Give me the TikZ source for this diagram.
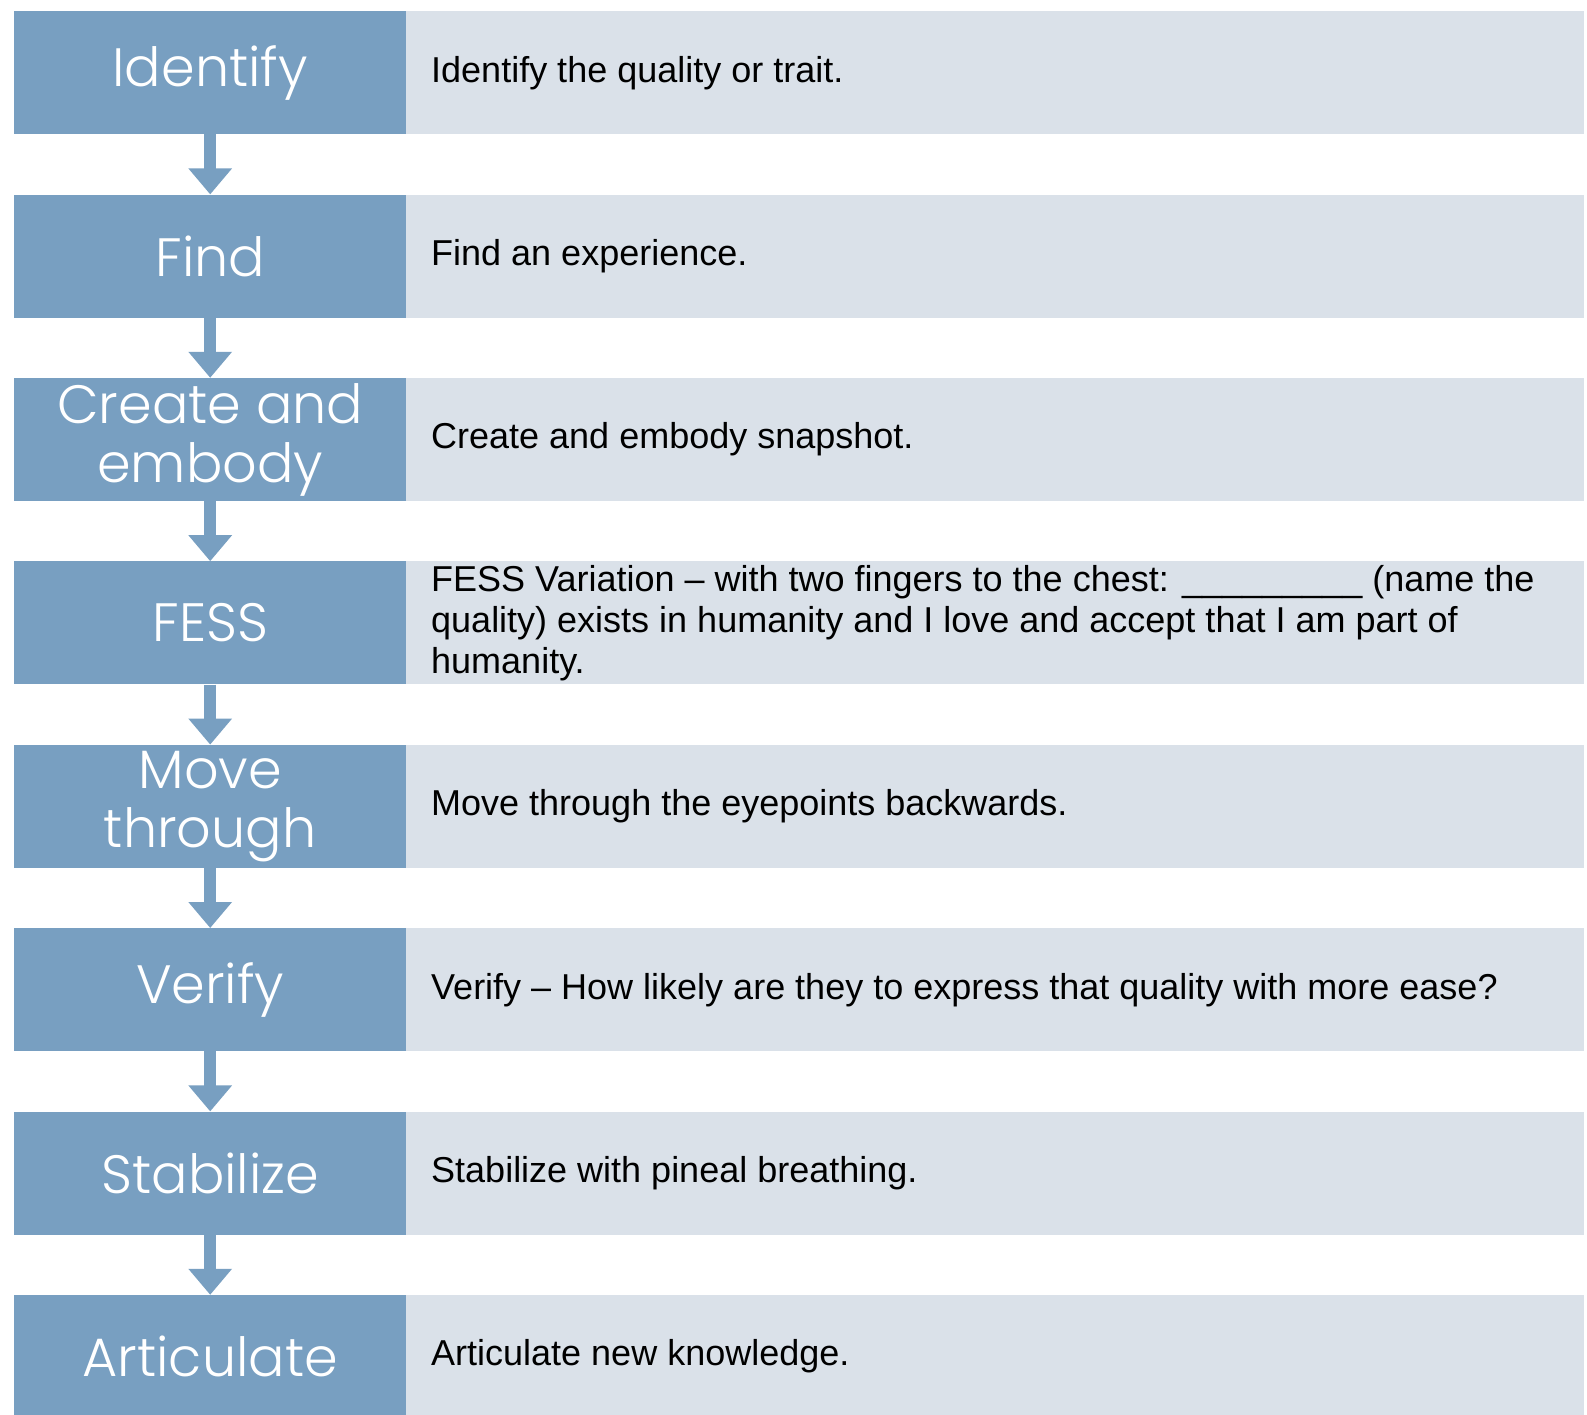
\documentclass[tikz,border=0pt]{standalone}
\usepackage{fontspec}
\usetikzlibrary{arrows.meta}
\IfFontExistsTF{Poppins Light}
  {\newfontfamily\stepfont{Poppins Light}}
  {\newfontfamily\stepfont{Poppins}}
\newfontfamily\descfont{Liberation Sans}
\definecolor{stepblue}{HTML}{789FC1}
\definecolor{rowgrey}{HTML}{DAE1E9}
\tikzset{
  x=1pt, y=-1pt,
  stepbox/.style={fill=stepblue, text=white, minimum width=392pt, minimum height=123pt,
    inner sep=0pt, anchor=north west, align=center,
    font=\stepfont\fontsize{54}{59}\selectfont},
  descbox/.style={fill=rowgrey, text=black, minimum width=1178pt, minimum height=123pt,
    inner sep=0pt, anchor=north west},
  desctext/.style={anchor=west, inner sep=0pt, align=left,
    font=\descfont\fontsize{36}{41}\selectfont},
  flow/.style={draw=stepblue, line width=12pt, -{Triangle[width=42pt,length=26pt]}}
}
\begin{document}
\begin{tikzpicture}
\clip (0,0) rectangle (1587,1414);
\fill[white] (0,0) rectangle (1587,1414);
\foreach \i/\lbl/\txt in {
  0/{Identify}/{Identify the quality or trait.},
  1/{Find}/{Find an experience.},
  2/{Create and\\embody}/{Create and embody snapshot.},
  3/{FESS}/{FESS Variation \textendash\ with two fingers to the chest: \_\_\_\_\_\_\_\_\_ (name the\\quality) exists in humanity and I love and accept that I am part of\\humanity.},
  4/{Move\\through}/{Move through the eyepoints backwards.},
  5/{Verify}/{Verify \textendash\ How likely are they to express that quality with more ease?},
  6/{Stabilize}/{Stabilize with pineal breathing.},
  7/{Articulate}/{Articulate new knowledge.}}
{
  \node[descbox] (d\i) at (406, 11+183.4*\i) {};
  \node[stepbox] (s\i) at (14, 11+183.4*\i) {\lbl};
  \node[desctext] (t\i) at ([xshift=25pt]d\i.west) {\txt};
}
\foreach \i [evaluate=\i as \j using int(\i+1)] in {0,...,6}
  \draw[flow] (s\i.south) -- (s\j.north);
\end{tikzpicture}
\end{document}
